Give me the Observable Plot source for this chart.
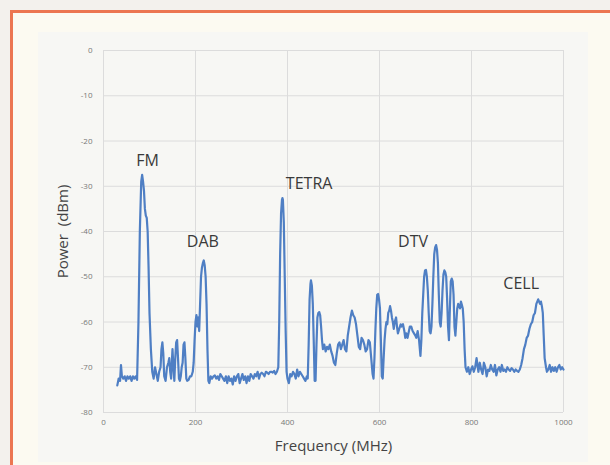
<!DOCTYPE html>
<html>
<head>
<meta charset="utf-8">
<script src="https://cdn.jsdelivr.net/npm/d3@7"></script>
<script src="https://cdn.jsdelivr.net/npm/@observablehq/plot@0.6"></script>
<style>
  html, body { margin: 0; padding: 0; }
  body { width: 610px; height: 465px; overflow: hidden; background: #f3f1ed; position: relative; font-family: "Open Sans", sans-serif; }
  #frame { position: absolute; left: 10px; top: 10px; width: 620px; height: 480px; border-left: 3px solid #ec7651; border-top: 3px solid #ec7651; background: #fcfaf1; }
  #chartbg { position: absolute; left: 38px; top: 32px; width: 550px; height: 430px; background: #f7f7f4; }
  #chart { position: absolute; left: 0; top: 0; }
</style>
</head>
<body>
<div id="frame"></div>
<div id="chartbg"></div>
<div id="chart"></div>
<script>
const freq = [30,33,36,38,40,43,46,49,52,55,58,61,64,67,70,73,76,79,82,84,86,88,90,92,94,96,98,100,103,106,109,112,115,118,121,124,126,128,130,132,135,138,141,143,145,147,149,150,152,154,156,158,160,162,164,166,168,170,172,174,176,178,180,182,185,188,191,194,196,198,200,202,204,206,208,210,212,214,216,218,220,222,224,226,228,230,233,236,239,242,245,248,251,254,257,260,263,266,269,272,275,278,281,284,287,290,293,296,299,302,305,308,311,314,317,320,323,326,329,332,335,338,341,344,347,350,353,356,359,362,365,368,371,374,377,380,382,384,386,388,389,390,392,394,396,398,400,403,406,409,412,415,418,421,424,427,430,433,436,439,442,444,446,448,450,451,453,455,457,459,461,463,465,467,469,471,473,475,477,480,483,486,489,492,495,498,501,504,507,510,513,516,519,522,525,528,531,534,537,540,543,546,549,552,555,558,561,564,567,570,573,576,579,582,585,587,589,591,593,595,597,599,601,603,605,607,609,611,613,615,617,619,621,623,625,627,629,631,633,636,638,640,643,646,648,651,654,656,658,661,664,666,669,672,675,678,680,683,686,689,691,693,695,697,699,701,703,705,707,709,711,713,715,717,719,721,723,725,727,729,731,733,735,737,739,741,743,745,747,749,751,753,755,757,759,761,763,765,767,769,771,773,775,777,779,781,783,785,787,790,793,796,799,802,805,808,811,813,815,818,821,824,827,830,833,836,839,842,845,848,851,854,857,860,863,866,869,872,875,878,881,884,887,890,893,896,899,902,905,908,911,914,917,920,923,926,929,932,935,938,941,943,945,947,949,951,953,955,957,959,962,964,967,970,973,976,979,982,985,988,991,994,997,1000];
const power = [-74,-72.5,-73,-69.5,-72,-72.5,-72,-73,-72,-72.5,-72,-73,-72,-72.5,-72,-72.8,-60,-40,-29,-27.5,-29,-31,-35,-36.5,-37,-40,-48,-58,-66,-71,-72.5,-70,-71.5,-73,-71,-70,-66,-64.5,-67,-72,-73,-70,-69,-68,-71,-72.5,-68,-66,-70,-73,-68,-64.5,-64,-68,-72.5,-73,-72,-70,-69,-65,-64.5,-68,-72.5,-73,-72.8,-72,-72,-71,-69,-64,-60,-58.5,-61,-59,-62,-56,-50,-48,-47,-46.4,-47.5,-50,-56,-66,-73,-73.5,-72,-72.5,-72,-71.8,-72.5,-72,-72.8,-71.5,-72,-72.5,-73,-72,-73.5,-72,-73,-72.5,-73.8,-72,-73,-72,-71.5,-73.5,-72.5,-71.5,-72.8,-72,-73.5,-72,-73,-71.5,-72,-72.5,-71.5,-72,-71,-72.5,-71.5,-71.2,-71.5,-72,-71,-71.2,-71.5,-71,-71,-71.2,-70.8,-71.5,-71,-70,-60,-45,-36,-33,-32.6,-33,-38,-50,-62,-71,-72.5,-73.5,-71.5,-72,-71,-71.5,-72.5,-70.5,-72,-71,-71.5,-72,-72.5,-73,-72,-72.5,-65,-55,-51.5,-50.8,-52,-56,-64,-73,-73,-65,-59,-58,-57.8,-58.5,-61,-64,-66,-65,-66.5,-65.5,-66,-65,-66.5,-67.5,-69,-69.5,-67,-65,-64.5,-66,-65,-64,-66,-66.5,-63,-61,-59,-57.5,-58.5,-59,-60.5,-63,-65.5,-66,-63.5,-64,-65,-66.5,-66,-64,-64.5,-68,-71.5,-72.5,-68,-62,-57,-54,-53.8,-55,-57,-64,-72,-72.5,-68,-64,-61.5,-60,-60.5,-58,-57.5,-56.5,-57.5,-59,-60,-61.5,-60,-59,-61,-62.5,-61.5,-60.5,-61,-60.5,-62,-63.5,-62.5,-63.5,-62,-61,-61,-62,-62.5,-63,-63.5,-62,-64,-67.5,-64,-58,-54,-50,-48.6,-48.5,-50,-53,-58,-62,-62.5,-61,-56,-50,-45,-43.5,-43,-44,-47,-54,-60,-61,-58,-53,-49.5,-48.6,-49,-50,-55,-61,-64,-57,-51,-50.4,-51,-54,-61,-63,-60,-57,-56,-56.5,-57,-55.5,-56.2,-57,-60,-66,-70,-71,-70,-71.5,-70.5,-69.8,-71,-70,-68,-69.5,-71,-69,-70.5,-71.5,-69,-70,-72,-70.5,-70.8,-69.5,-70.5,-71,-69.5,-71.8,-70.5,-70,-71,-69.5,-70.8,-70.5,-71,-70,-70.5,-70.8,-70.2,-70.5,-71,-70.5,-70.8,-71,-70.5,-69.5,-68,-66,-65,-63.5,-63,-61.5,-60.5,-60,-58.5,-58,-56,-55.5,-55,-55.5,-56,-55.5,-56.5,-58,-63,-68,-70,-71,-70.5,-69.5,-71,-70,-70.8,-70,-71,-70,-69.5,-70.5,-70,-70.5];

const labelNames = ["FM", "DAB", "TETRA", "DTV", "CELL"];
const labelFreq = [96, 216, 447, 673, 908];
const labelPower = [-24.3, -42.4, -29.4, -42.2, -51.5];

const xTicks = [0, 200, 400, 600, 800, 1000];
const yTicks = [0, -10, -20, -30, -40, -50, -60, -70, -80];

const spectrum = freq.map((f, i) => ({f, p: power[i]}));
const labels = labelNames.map((n, i) => ({n, f: labelFreq[i], p: labelPower[i]}));
const fmt = d => String(d);

const chart = Plot.plot({
  width: 610,
  height: 465,
  marginLeft: 103,
  marginRight: 47,
  marginTop: 50,
  marginBottom: 53,
  style: {background: "transparent", fontFamily: "Open Sans, sans-serif"},
  x: {domain: [0, 1000]},
  y: {domain: [-80, 0]},
  marks: [
    Plot.gridX(xTicks, {stroke: "#dcdcdc", strokeOpacity: 1}),
    Plot.gridY(yTicks, {stroke: "#dcdcdc", strokeOpacity: 1}),
    Plot.axisX({ticks: xTicks, tickFormat: fmt, tickSize: 0, tickPadding: 7, fontSize: 8, fill: "#777",
      label: "Frequency (MHz)", labelAnchor: "center", labelArrow: "none", labelOffset: 38}),
    Plot.axisY({ticks: yTicks, tickFormat: fmt, tickSize: 0, tickPadding: 11, fontSize: 8, fill: "#777",
      label: "Power  (dBm)", labelAnchor: "center", labelArrow: "none", labelOffset: 46}),
    Plot.line(spectrum, {x: "f", y: "p", stroke: "#4f7fc4", strokeWidth: 2.2, strokeLinejoin: "round"}),
    Plot.text(labels, {x: "f", y: "p", text: "n", fontSize: 16, fill: "#3a3a3a"})
  ]
});
chart.querySelectorAll("g[aria-label='x-axis label'] text, g[aria-label='y-axis label'] text").forEach(t => {
  t.setAttribute("font-size", "15");
  t.setAttribute("fill", "#444");
});
document.getElementById("chart").appendChild(chart);
</script>
</body>
</html>
